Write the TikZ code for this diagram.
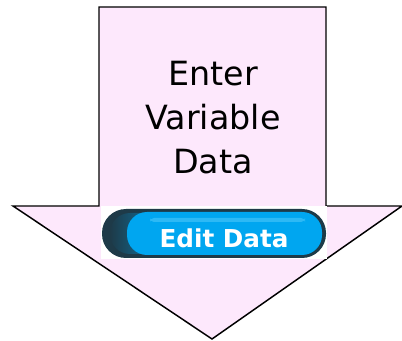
\documentclass[tikz,border=0pt]{standalone}
\usepackage{fontspec}
\setmainfont{DejaVu Sans}
\newfontfamily\btnfont{DejaVu Sans}
\usetikzlibrary{positioning}

\definecolor{arrowpink}{RGB}{253,232,252}
\definecolor{btnedge}{RGB}{30,58,72}
\definecolor{btnblue}{RGB}{0,166,240}
\definecolor{btnlight}{RGB}{90,205,250}

\tikzset{
  bigarrow/.style={draw=black, line width=1.1pt, fill=arrowpink, line join=miter},
  label/.style={align=center, font=\fontsize{25}{33}\selectfont},
  btntext/.style={text=white, font=\btnfont\bfseries\fontsize{18.5}{21}\selectfont}
}

\begin{document}
\begin{tikzpicture}[x=0.75pt,y=-0.75pt]
	\useasboundingbox (0,0) rectangle (402,341);
	% the big downward arrow
	\draw[bigarrow] (99,7) -- (326,7) -- (326,206) -- (402,206) -- (212,339)
		-- (13,206) -- (99,206) -- cycle;
	\node[label] (enter) at (213,118) {Enter\\Variable\\Data};
	% the button
	\fill[white] (101,206) rectangle (327,259);
	\fill[btnedge, rounded corners=24*0.75pt] (102,209) rectangle (326,258);
	\shade[left color=btnedge, right color=btnblue, rounded corners=20*0.75pt]
		(110,213) rectangle (200,254);
	\fill[btnblue, rounded corners=20*0.75pt] (127,212) rectangle (322,255);
	\fill[btnlight, opacity=0.5, rounded corners=3pt] (150,218) rectangle (305,222);
	\node[btntext] (edit) at (224,238) {Edit Data};
\end{tikzpicture}
\end{document}
